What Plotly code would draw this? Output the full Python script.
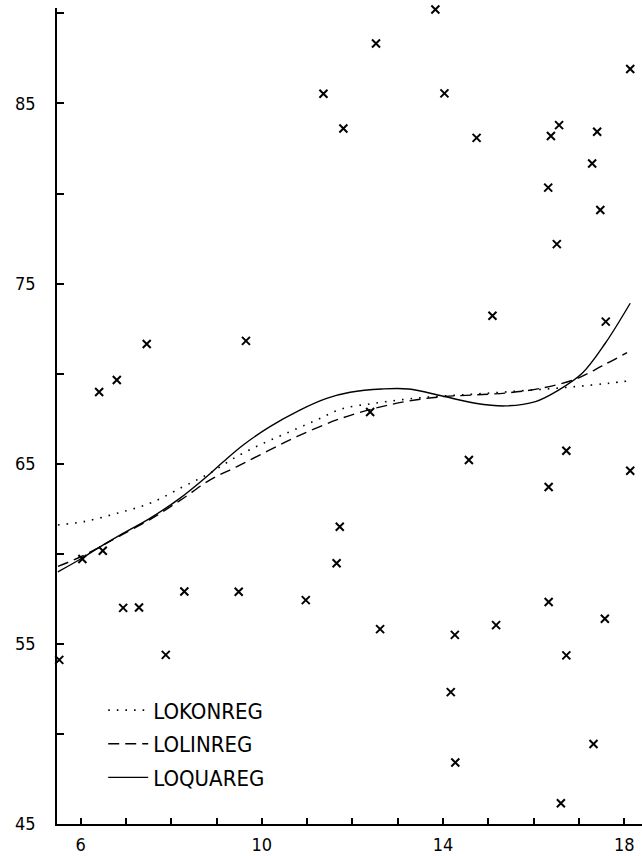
import plotly.graph_objects as go

# observed data points (x, y)
obs_x = [5.53, 6.04, 6.41, 6.49, 6.80, 6.94, 7.29, 7.46, 7.88, 8.29, 9.49, 9.65,
         10.97, 11.36, 11.65, 11.72, 11.80, 12.39, 12.52, 12.61, 13.83, 14.03,
         14.17, 14.26, 14.27, 14.57, 14.74, 15.09, 15.17, 16.32, 16.33, 16.33,
         16.38, 16.51, 16.56, 16.60, 16.72, 16.72, 17.29, 17.32, 17.40, 17.47,
         17.57, 17.59, 18.13, 18.13]
obs_y = [54.11, 59.71, 68.98, 60.17, 69.65, 57.00, 57.02, 71.65, 54.39, 57.91, 57.89, 71.82,
         57.43, 85.54, 59.48, 61.50, 83.61, 67.87, 88.33, 55.82, 90.22, 85.56,
         52.32, 55.50, 48.41, 65.21, 83.09, 73.22, 56.04, 80.33, 63.71, 57.32,
         83.19, 77.19, 83.80, 46.15, 65.72, 54.36, 81.67, 49.44, 83.43, 79.09,
         56.39, 72.89, 86.91, 64.61]

# LOKONREG (dotted)
kon_x = [5.50, 6.10, 6.79, 7.53, 8.26, 8.85, 9.44, 10.03, 10.62, 11.21, 11.77, 12.50,
         13.24, 13.98, 14.71, 15.45, 16.18, 16.92, 17.66, 18.13]
kon_y = [61.60, 61.80, 62.24, 62.80, 63.72, 64.47, 65.39, 66.13, 66.78, 67.43, 68.05, 68.36,
         68.60, 68.76, 68.87, 69.00, 69.13, 69.28, 69.47, 69.61]

# LOLINREG (dashed)
lin_x = [5.50, 6.02, 6.43, 6.87, 7.53, 8.19, 8.85, 9.44, 10.10, 10.77, 11.65, 12.50,
         13.24, 13.98, 14.71, 15.45, 16.18, 16.92, 17.51, 18.06]
lin_y = [59.30, 59.85, 60.39, 61.00, 61.90, 62.95, 64.09, 64.83, 65.67, 66.50, 67.43, 68.08,
         68.48, 68.72, 68.82, 68.94, 69.20, 69.69, 70.43, 71.17]

# LOQUAREG (solid)
qua_x = [5.50, 6.02, 6.43, 6.87, 7.53, 8.19, 8.78, 9.15, 9.59, 10.18, 10.84, 11.43,
         11.95, 12.65, 13.24, 13.98, 14.71, 15.37, 16.04, 16.55, 17.07, 17.58, 18.13]
qua_y = [59.00, 59.74, 60.39, 61.04, 61.97, 63.08, 64.28, 65.11, 66.04, 67.06, 67.98, 68.63,
         68.97, 69.15, 69.15, 68.76, 68.36, 68.21, 68.45, 69.09, 70.02, 71.69, 73.91]

x_tickvals = list(range(6, 19))
x_ticktext = ["6", "", "", "", "10", "", "", "", "14", "", "", "", "18"]
y_tickvals = list(range(45, 91, 5))
y_ticktext = ["45", "", "55", "", "65", "", "75", "", "85", ""]

FONT = "DejaVu Sans Condensed, Liberation Sans Narrow, DejaVu Sans, sans-serif"

fig = go.Figure()
fig.add_trace(go.Scatter(x=obs_x, y=obs_y, mode="markers", showlegend=False,
                         cliponaxis=False,
                         marker=dict(symbol="x-thin", size=8, color="black",
                                     line=dict(color="black", width=2))))
fig.add_trace(go.Scatter(x=kon_x, y=kon_y, mode="lines", name="LOKONREG",
                         legendgroup="a", line_shape="spline",
                         line=dict(color="black", width=1.6, dash="1.6px,7px")))
fig.add_trace(go.Scatter(x=lin_x, y=lin_y, mode="lines", name="LOLINREG",
                         legendgroup="b", line_shape="spline",
                         line=dict(color="black", width=1.4, dash="11px,6px")))
fig.add_trace(go.Scatter(x=qua_x, y=qua_y, mode="lines", name="LOQUAREG",
                         legendgroup="c", line_shape="spline",
                         line=dict(color="black", width=1.4)))

fig.update_layout(
    width=642, height=856,
    margin=dict(l=57, r=0, t=8, b=32, autoexpand=False),
    paper_bgcolor="white", plot_bgcolor="white",
    font=dict(family=FONT, color="black", size=18),
    legend=dict(x=0.079, y=0.165, xanchor="left", yanchor="top",
                bgcolor="rgba(0,0,0,0)", font=dict(size=22, family=FONT),
                tracegroupgap=2, itemwidth=40),
    xaxis=dict(range=[5.48, 18.39], tickvals=x_tickvals, ticktext=x_ticktext,
               ticks="inside", ticklen=6, tickwidth=1.5, tickcolor="black",
               showline=True, linecolor="black", linewidth=1.5, mirror=False,
               showgrid=False, zeroline=False, ticklabelstandoff=4,
               automargin=False, tickfont=dict(size=18)),
    yaxis=dict(range=[45, 90.3], tickvals=y_tickvals, ticktext=y_ticktext,
               ticks="inside", ticklen=7, tickwidth=1.5, tickcolor="black",
               showline=True, linecolor="black", linewidth=1.5, mirror=False,
               showgrid=False, zeroline=False, ticklabelstandoff=16,
               automargin=False, tickfont=dict(size=18)),
)

fig.write_html("out.html",
               config={"displayModeBar": False},
               post_script="document.body.style.margin='0';"
                           "document.body.style.overflow='hidden';")
